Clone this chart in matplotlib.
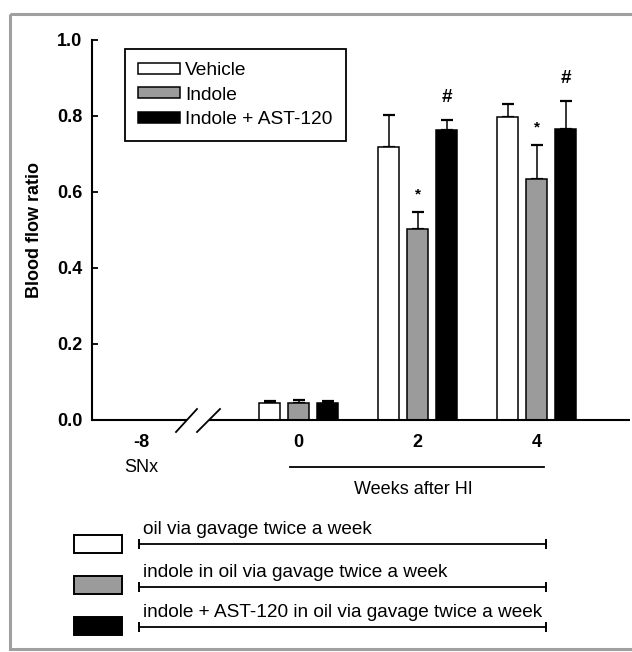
import matplotlib
matplotlib.use("Agg")
import matplotlib.pyplot as plt
from matplotlib.patches import Rectangle
import numpy as np

plt.rcParams['font.family'] = ['Liberation Sans', 'DejaVu Sans']

# ---------------- data ----------------
groups = ['Vehicle', 'Indole', 'Indole + AST-120']
weeks = [0, 2, 4]
vehicle_mean = [0.044, 0.718, 0.797]
vehicle_err = [0.005, 0.085, 0.035]
indole_mean = [0.046, 0.503, 0.633]
indole_err = [0.006, 0.044, 0.090]
ast_mean = [0.044, 0.762, 0.765]
ast_err = [0.007, 0.027, 0.075]
indole_marks = ['', '*', '*']
ast_marks = ['', '#', '#']
x_tick_labels = ['-8', '0', '2', '4']
y_ticks = [0.0, 0.2, 0.4, 0.6, 0.8, 1.0]
treatment_texts = ['oil via gavage twice a week',
                   'indole in oil via gavage twice a week',
                   'indole + AST-120 in oil via gavage twice a week']

# ---------------- style ----------------
colors = ['white', '#9b9b9b', 'black']
W, H = 632, 652
fig = plt.figure(figsize=(W / 100, H / 100), dpi=100)
fig.patch.set_facecolor('white')

def fx(px):
    return px / W

def fy(py):
    return 1 - py / H

# main axes: x from 92 to 630 px, y from 40 (1.0) to 420 (0.0)
ax = fig.add_axes([fx(92), fy(420), (630 - 92) / W, (420 - 40) / H])
ax.set_facecolor('none')

unit = 59.5  # px per week
center0 = 298.5
xmin = (92 - center0) / unit
xmax = (630 - center0) / unit
snx_pos = (141 - center0) / unit
ax.set_xlim(xmin, xmax)
ax.set_ylim(0, 1.0)

offset = 29 / unit
bw = 20.5 / unit
x = np.array(weeks, dtype=float)
series = [(vehicle_mean, vehicle_err), (indole_mean, indole_err), (ast_mean, ast_err)]
containers = []
for i, ((m, e), c, lab) in enumerate(zip(series, colors, groups)):
    xs = x + (i - 1) * offset
    bc = ax.bar(xs, m, width=bw, color=c, edgecolor='black', linewidth=1.1,
                label=lab, zorder=3)
    ax.errorbar(xs, m, yerr=[np.zeros(len(e)), e], fmt='none', ecolor='black',
                elinewidth=1.1, capsize=4.3, capthick=1.6, zorder=2)
    containers.append(bc)

# significance markers
for xi, m, e, s in zip(x, indole_mean, indole_err, indole_marks):
    if s:
        ax.annotate(s, (xi, m + e), xytext=(0, 13), textcoords='offset points',
                    ha='center', va='center', fontsize=11, fontweight='bold')
for xi, m, e, s in zip(x + offset, ast_mean, ast_err, ast_marks):
    if s:
        ax.annotate(s, (xi, m + e), xytext=(0, 16), textcoords='offset points',
                    ha='center', va='center', fontsize=13.5, fontweight='bold')

# spines / ticks
for s in ['top', 'right', 'bottom']:
    ax.spines[s].set_visible(False)
ax.spines['left'].set_linewidth(1.5)
ax.set_yticks(y_ticks)
ax.set_yticklabels([f'{v:.1f}' for v in y_ticks], fontsize=13, fontweight='bold')
ax.tick_params(axis='y', direction='in', length=4, width=1.3, pad=7)
ax.set_xticks([snx_pos] + list(x))
ax.set_xticklabels(x_tick_labels, fontsize=13, fontweight='bold')
ax.tick_params(axis='x', length=0, pad=10)
ax.set_ylabel('Blood flow ratio', fontsize=13, fontweight='bold', labelpad=10)

# broken x axis
brk_l = (187 - center0) / unit
brk_r = (209 - center0) / unit
ax.plot([xmin, brk_l], [0, 0], color='black', lw=1.5, clip_on=False, zorder=4,
        solid_capstyle='butt')
ax.plot([brk_r, xmax], [0, 0], color='black', lw=1.5, clip_on=False, zorder=4,
        solid_capstyle='butt')

leg = ax.legend(handles=containers, loc='upper left',
                bbox_to_anchor=(fx(125), fy(49)), bbox_transform=fig.transFigure,
                fontsize=13.8, frameon=True, fancybox=False, edgecolor='black',
                handlelength=2.15, handleheight=0.5, labelspacing=0.38,
                handletextpad=0.3, borderpad=0.7, borderaxespad=0)
leg.get_frame().set_linewidth(1.3)
leg.get_frame().set_alpha(1)

# ---------------- overlay in pixel coordinates ----------------
ov = fig.add_axes([0, 0, 1, 1], zorder=5)
ov.set_xlim(0, W)
ov.set_ylim(H, 0)
ov.axis('off')
ov.patch.set_visible(False)

# gray frame
ov.add_patch(Rectangle((10, 14), W + 10, 635, fill=False, edgecolor='#a0a0a0',
                       lw=2.2, clip_on=False))

# break slashes
ov.plot([176, 197], [432, 409], color='black', lw=1.3)
ov.plot([197, 220], [432, 409], color='black', lw=1.3)

# below-axis annotations
ov.text(141, 467, 'SNx', ha='center', va='center', fontsize=13)
ov.plot([290, 544], [467, 467], color='black', lw=1.3)
ov.text(413, 490, 'Weeks after HI', ha='center', va='center', fontsize=13)

# treatment legend
patch_y = [535, 576, 617]
line_y = [544, 587, 627]
for c, py, ly, t in zip(colors, patch_y, line_y, treatment_texts):
    ov.add_patch(Rectangle((74, py), 48, 18, facecolor=c, edgecolor='black', lw=1.4))
    ov.plot([139, 546], [ly, ly], color='black', lw=1.3, marker='|',
            markersize=7, markeredgewidth=1.4)
    ov.text(143, ly - 6, t, ha='left', va='bottom', fontsize=13.7)

fig.savefig('out.png', dpi=100)
